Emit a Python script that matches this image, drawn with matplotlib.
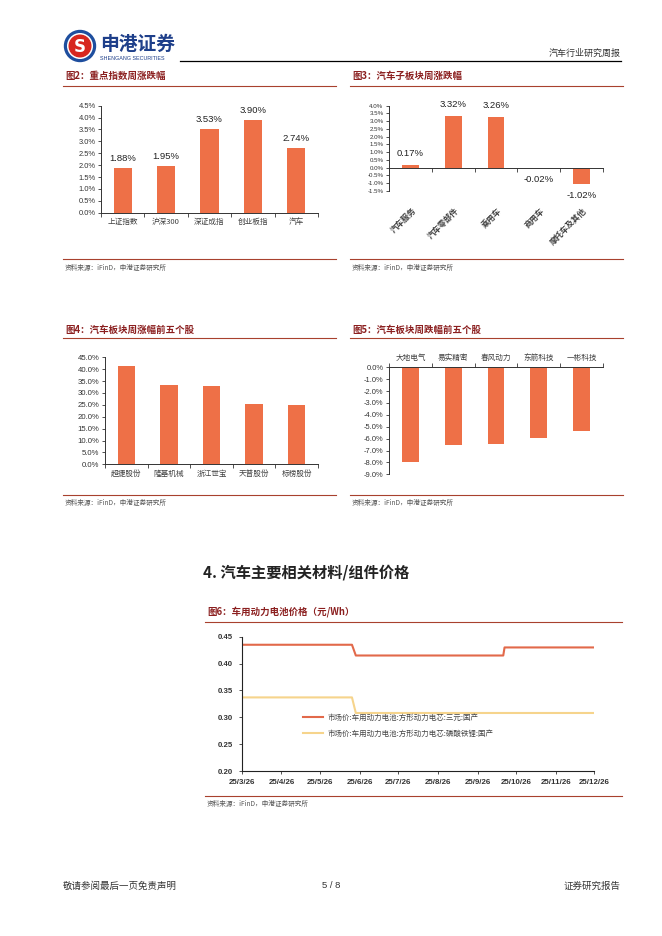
import numpy as np
import pandas as pd
import matplotlib
matplotlib.use('Agg')
import matplotlib.pyplot as plt
from matplotlib.patches import Circle
from matplotlib.ticker import FuncFormatter, FixedLocator

plt.rcParams['font.family'] = ['Noto Sans CJK SC', 'DejaVu Sans']
plt.rcParams['axes.unicode_minus'] = False

# ---- data ----
idx_names = ['上证指数', '沪深300', '深证成指', '创业板指', '汽车']
idx_vals = [1.88, 1.95, 3.53, 3.90, 2.74]

sub_names = ['汽车服务', '汽车零部件', '乘用车', '商用车', '摩托车及其他']
sub_vals = [0.17, 3.32, 3.26, -0.02, -1.02]

up_names = ['超捷股份', '隆基机械', '浙江世宝', '天普股份', '标榜股份']
up_vals = [41.5, 33.4, 33.1, 25.4, 24.8]

down_names = ['大地电气', '易实精密', '春风动力', '东箭科技', '一彬科技']
down_vals = [-7.93, -6.52, -6.42, -5.92, -5.33]

ncm_dates = ['2025-03-26', '2025-06-20', '2025-06-23', '2025-10-16', '2025-10-17', '2025-12-26']
ncm_vals = [0.435, 0.435, 0.415, 0.415, 0.430, 0.430]
lfp_dates = ['2025-03-26', '2025-06-20', '2025-06-23', '2025-12-26']
lfp_vals = [0.337, 0.337, 0.308, 0.308]
ncm_label = '市场价:车用动力电池:方形动力电芯:三元:国产'
lfp_label = '市场价:车用动力电池:方形动力电芯:磷酸铁锂:国产'
month_ticks = pd.date_range('2025-03-01', '2025-12-01', freq='MS') + pd.Timedelta(days=25)

BAR = '#EE7047'
TITLE_C = '#8B1F1F'
RULE_C = '#A8412E'
NUM_FONT = 'Liberation Sans'

W, H = 662, 936
fig = plt.figure(figsize=(W / 100, H / 100), dpi=100)

bg = fig.add_axes([0, 0, 1, 1], zorder=-1)
bg.set_xlim(0, W)
bg.set_ylim(H, 0)
bg.axis('off')


def box(x0, y0, x1, y1):
    return fig.add_axes([x0 / W, 1 - y1 / H, (x1 - x0) / W, (y1 - y0) / H])


def pct_fmt(v, pos):
    return '%.1f%%' % v


def style_bar_axes(ax, n, ysize=5.4):
    for s in ['top', 'right']:
        ax.spines[s].set_visible(False)
    for s in ['left', 'bottom']:
        ax.spines[s].set_linewidth(0.7)
        ax.spines[s].set_color('#333333')
    ax.set_xlim(-0.5, n - 0.5)
    ax.yaxis.set_major_formatter(FuncFormatter(pct_fmt))
    ax.tick_params(axis='y', labelsize=ysize, length=2.5, width=0.6, pad=1.5, colors='#333333')
    for lab in ax.get_yticklabels():
        lab.set_fontfamily(NUM_FONT)
    ax.xaxis.set_minor_locator(FixedLocator(np.arange(-0.5, n, 1.0)))
    ax.tick_params(axis='x', which='minor', length=3, width=0.6, color='#333333')
    ax.tick_params(axis='x', which='major', length=0, labelsize=5.5, colors='#404040', pad=4)
    ax.patch.set_visible(False)


def section_frame(x0, x1, title, ytitle, yrule, ysrc_rule, ysrc):
    bg.text(x0 + 2, ytitle, title, fontsize=6.8, fontweight='bold', color=TITLE_C, va='center', ha='left')
    bg.plot([x0, x1], [yrule, yrule], color=RULE_C, lw=0.8)
    bg.plot([x0, x1], [ysrc_rule, ysrc_rule], color=RULE_C, lw=0.8)
    bg.text(x0 + 2, ysrc, '资料来源：iFinD，申港证券研究所', fontsize=4.8, color='#555555',
            style='italic', va='center', ha='left')


# ---- header ----
bg.add_patch(Circle((80, 46), 15.5, color='#1E4E9E'))
bg.add_patch(Circle((80, 46), 12.3, color='white'))
bg.add_patch(Circle((80, 46), 10.8, color='#D7261E'))
bg.text(80, 46.5, 'S', fontsize=12, fontweight='bold', color='white', ha='center', va='center',
        family='DejaVu Sans')
bg.text(100, 44, '申港证券', fontsize=13.5, fontweight='bold', color='#1E3F8A', ha='left', va='center')
bg.text(100, 58, 'SHENGANG SECURITIES', fontsize=3.9, color='#1E3F8A', ha='left', va='center',
        family=NUM_FONT)
bg.plot([180, 621], [60.5, 60.5], color='black', lw=0.9)
bg.text(621, 53, '汽车行业研究周报', fontsize=6.5, color='#333333', ha='right', va='center')

# ---- frames ----
section_frame(63, 336, '图2：重点指数周涨跌幅', 76, 86, 259, 268)
section_frame(350, 623, '图3：汽车子板块周涨跌幅', 76, 86, 259, 268)
section_frame(63, 336, '图4：汽车板块周涨幅前五个股', 330, 338, 495, 503)
section_frame(350, 623, '图5：汽车板块周跌幅前五个股', 330, 338, 495, 503)
section_frame(205, 622, '图6：车用动力电池价格（元/Wh）', 612, 622, 796, 804)
bg.text(203, 572, '4. 汽车主要相关材料/组件价格', fontsize=11, fontweight='bold', color='#222222',
        ha='left', va='center')

# ---- fig 2 ----
ax2 = box(101, 105.7, 318, 212.7)
x = np.arange(len(idx_names))
ax2.bar(x, idx_vals, width=0.42, color=BAR)
ax2.set_ylim(0, 4.5)
ax2.set_yticks(np.arange(0, 4.51, 0.5))
ax2.set_xticks(x)
ax2.set_xticklabels(idx_names)
style_bar_axes(ax2, len(idx_names))
for xi, v in zip(x, idx_vals):
    ax2.annotate('%.2f%%' % v, (xi, v), xytext=(0, 3.5), textcoords='offset points',
                 ha='center', va='bottom', fontsize=6.8, family=NUM_FONT, color='#222222')

# ---- fig 3 ----
ax3 = box(389, 105.7, 603, 191)
x = np.arange(len(sub_names))
ax3.bar(x, sub_vals, width=0.39, color=BAR)
ax3.set_ylim(-1.5, 4.0)
ax3.set_yticks(np.arange(-1.5, 4.01, 0.5))
ax3.set_xticks([])
style_bar_axes(ax3, len(sub_names), ysize=4.4)
ax3.spines['bottom'].set_position(('data', 0))
for xi, v in zip(x, sub_vals):
    off = 5 if v > 0 else -5
    ax3.annotate('%.2f%%' % v, (xi, v), xytext=(0, off), textcoords='offset points',
                 ha='center', va='bottom' if v > 0 else 'top', fontsize=6.8,
                 family=NUM_FONT, color='#222222')
    ax3.text(xi + 0.02, -0.175, sub_names[xi], transform=ax3.get_xaxis_transform(),
             rotation=45, rotation_mode='anchor', ha='right', va='top', fontsize=5.8,
             fontweight='bold', color='#404040')

# ---- fig 4 ----
ax4 = box(105, 357.3, 318, 464.3)
x = np.arange(len(up_names))
ax4.bar(x, up_vals, width=0.41, color=BAR)
ax4.set_ylim(0, 45)
ax4.set_yticks(np.arange(0, 45.1, 5))
ax4.set_xticks(x)
ax4.set_xticklabels(up_names)
style_bar_axes(ax4, len(up_names), ysize=5.6)

# ---- fig 5 ----
ax5 = box(389, 367.3, 603, 474.3)
x = np.arange(len(down_names))
ax5.bar(x, down_vals, width=0.39, color=BAR)
ax5.set_ylim(-9, 0)
ax5.set_yticks(np.arange(-9, 0.01, 1))
ax5.set_xticks(x)
ax5.set_xticklabels(down_names)
style_bar_axes(ax5, len(down_names), ysize=5.4)
ax5.spines['bottom'].set_visible(False)
ax5.spines['top'].set_visible(True)
ax5.spines['top'].set_linewidth(0.7)
ax5.spines['top'].set_color('#333333')
ax5.xaxis.tick_top()
ax5.tick_params(axis='x', which='major', length=0, labelsize=5.5, pad=4)
ax5.tick_params(axis='x', which='minor', length=3, width=0.6)

# ---- fig 6 ----
ax6 = box(241.7, 636.7, 594.3, 771)
ax6.plot(pd.to_datetime(ncm_dates), ncm_vals, color='#E2694A', lw=1.5, label=ncm_label)
ax6.plot(pd.to_datetime(lfp_dates), lfp_vals, color='#F6D48C', lw=1.5, label=lfp_label)
ax6.set_xlim(pd.Timestamp('2025-03-26'), pd.Timestamp('2025-12-26'))
ax6.set_ylim(0.20, 0.45)
ax6.set_yticks(np.arange(0.20, 0.451, 0.05))
ax6.yaxis.set_major_formatter(FuncFormatter(lambda v, p: '%.2f' % v))
ax6.set_xticks(month_ticks)
ax6.set_xticklabels(['%d/%d/%d' % (d.year % 100, d.month, d.day) for d in month_ticks])
for s in ['top', 'right']:
    ax6.spines[s].set_visible(False)
for s in ['left', 'bottom']:
    ax6.spines[s].set_linewidth(0.8)
    ax6.spines[s].set_color('#222222')
ax6.tick_params(labelsize=5.7, length=2.5, width=0.6, colors='#333333')
ax6.tick_params(axis='x', pad=3)
for lab in ax6.get_xticklabels() + ax6.get_yticklabels():
    lab.set_fontfamily(NUM_FONT)
    lab.set_fontweight('bold')
ax6.patch.set_visible(False)
leg = ax6.legend(loc='upper left', bbox_to_anchor=(303, 714), bbox_transform=bg.transData,
                 frameon=False, fontsize=5.4, handlelength=2.7, handletextpad=0.55,
                 labelspacing=1.0, borderpad=0, borderaxespad=0)
for t in leg.get_texts():
    t.set_color('#444444')

# ---- footer ----
bg.text(63, 886, '敬请参阅最后一页免责声明', fontsize=6.8, color='#333333', ha='left', va='center')
bg.text(331, 886, '5 / 8', fontsize=6.8, color='#333333', ha='center', va='center', family=NUM_FONT)
bg.text(621, 886, '证券研究报告', fontsize=6.8, color='#333333', ha='right', va='center')

fig.savefig('out.png', dpi=100)
